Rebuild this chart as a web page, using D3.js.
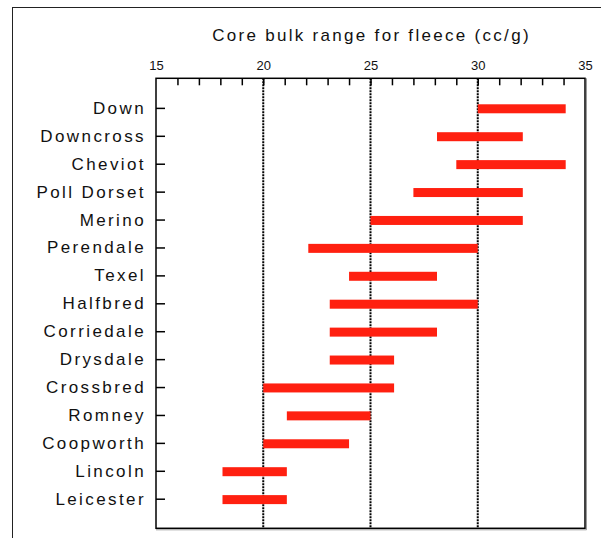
<!DOCTYPE html>
<html>
<head>
<meta charset="utf-8">
<script src="https://cdn.jsdelivr.net/npm/d3@7"></script>
<style>
  body { margin: 0; background: #fff; }
  svg { display: block; font-family: "Liberation Sans", Arial, sans-serif; }
</style>
</head>
<body>
<svg id="chart"></svg>
<script>
// breeds, top to bottom
var breeds = ["Down", "Downcross", "Cheviot", "Poll Dorset", "Merino", "Perendale", "Texel",
  "Halfbred", "Corriedale", "Drysdale", "Crossbred", "Romney", "Coopworth", "Lincoln", "Leicester"];
// core bulk range (cc/g), low and high ends
var lowVals  = [30.0, 28.1, 29.0, 27.0, 25.0, 22.1, 24.0, 23.1, 23.1, 23.1, 20.0, 21.1, 20.0, 18.1, 18.1];
var highVals = [34.1, 32.1, 34.1, 32.1, 32.1, 30.0, 28.1, 30.0, 28.1, 26.1, 26.1, 25.0, 24.0, 21.1, 21.1];
var majorTicks = [15, 20, 25, 30, 35];
var gridTicks = [20, 25, 30];

var W = 601, H = 538;
var plotLeft = 156, plotRight = 585, plotTop = 78.3, plotBottom = 528.3;

var rows = breeds.map(function(b, i) { return {breed: b, lo: lowVals[i], hi: highVals[i]}; });

var svg = d3.select("#chart").attr("width", W).attr("height", H);

// outer frame (runs off the picture at right and bottom)
svg.append("rect")
  .attr("x", 12.5).attr("y", 7.5)
  .attr("width", W).attr("height", H)
  .attr("fill", "none").attr("stroke", "#222").attr("stroke-width", 1);

var x = d3.scaleLinear().domain([15, 35]).range([plotLeft, plotRight]);
var y = d3.scalePoint().domain(breeds).range([plotTop, plotBottom]).padding(1.06);

// dotted grid lines
svg.append("g").selectAll("line")
  .data(gridTicks)
  .join("line")
  .attr("x1", d => x(d)).attr("x2", d => x(d))
  .attr("y1", plotTop).attr("y2", plotBottom)
  .attr("stroke", "#000")
  .attr("stroke-width", 2)
  .attr("stroke-dasharray", "2,1");

// bars
svg.append("g").selectAll("rect")
  .data(rows)
  .join("rect")
  .attr("x", d => x(d.lo))
  .attr("width", d => x(d.hi) - x(d.lo))
  .attr("y", d => y(d.breed) - 3.6)
  .attr("height", 9)
  .attr("fill", "#ff2010");

// minor ticks along top (inward)
var minor = svg.append("g")
  .attr("transform", `translate(0,${plotTop})`)
  .call(d3.axisTop(x).tickValues(d3.range(16, 35)).tickSize(-7).tickFormat(""));
minor.select(".domain").remove();
minor.selectAll("line").attr("stroke", "#000").attr("stroke-width", 1.5);

// major labels along top
var major = svg.append("g")
  .attr("transform", `translate(0,${plotTop})`)
  .call(d3.axisTop(x).tickValues(majorTicks).tickSize(0).tickPadding(8));
major.select(".domain").remove();
major.selectAll("text")
  .attr("font-family", "Liberation Sans, Arial, sans-serif")
  .attr("font-size", 13)
  .attr("fill", "#111");

// breed axis on left, ticks pointing inward
var yAxis = svg.append("g")
  .attr("transform", `translate(${plotLeft},0)`)
  .call(d3.axisLeft(y).tickSize(-9).tickPadding(10));
yAxis.select(".domain").remove();
yAxis.selectAll("line").attr("stroke", "#000").attr("stroke-width", 1.5);
yAxis.selectAll("text")
  .attr("font-family", "Liberation Sans, Arial, sans-serif")
  .attr("font-size", 17)
  .attr("letter-spacing", 2.4)
  .attr("fill", "#111");

// plot frame
svg.append("rect")
  .attr("x", plotLeft).attr("y", plotTop)
  .attr("width", plotRight - plotLeft).attr("height", plotBottom - plotTop)
  .attr("fill", "none").attr("stroke", "#000").attr("stroke-width", 1.5);
svg.append("path")
  .attr("d", `M${plotRight + 1.5},${plotTop} V${plotBottom + 1.5} H${plotLeft}`)
  .attr("fill", "none").attr("stroke", "#999").attr("stroke-width", 1);

// title
svg.append("text")
  .attr("x", (plotLeft + plotRight) / 2 + 1)
  .attr("y", 41)
  .attr("text-anchor", "middle")
  .attr("font-size", 17)
  .attr("letter-spacing", 2.3)
  .attr("fill", "#111")
  .text("Core bulk range for fleece (cc/g)");
</script>
</body>
</html>
